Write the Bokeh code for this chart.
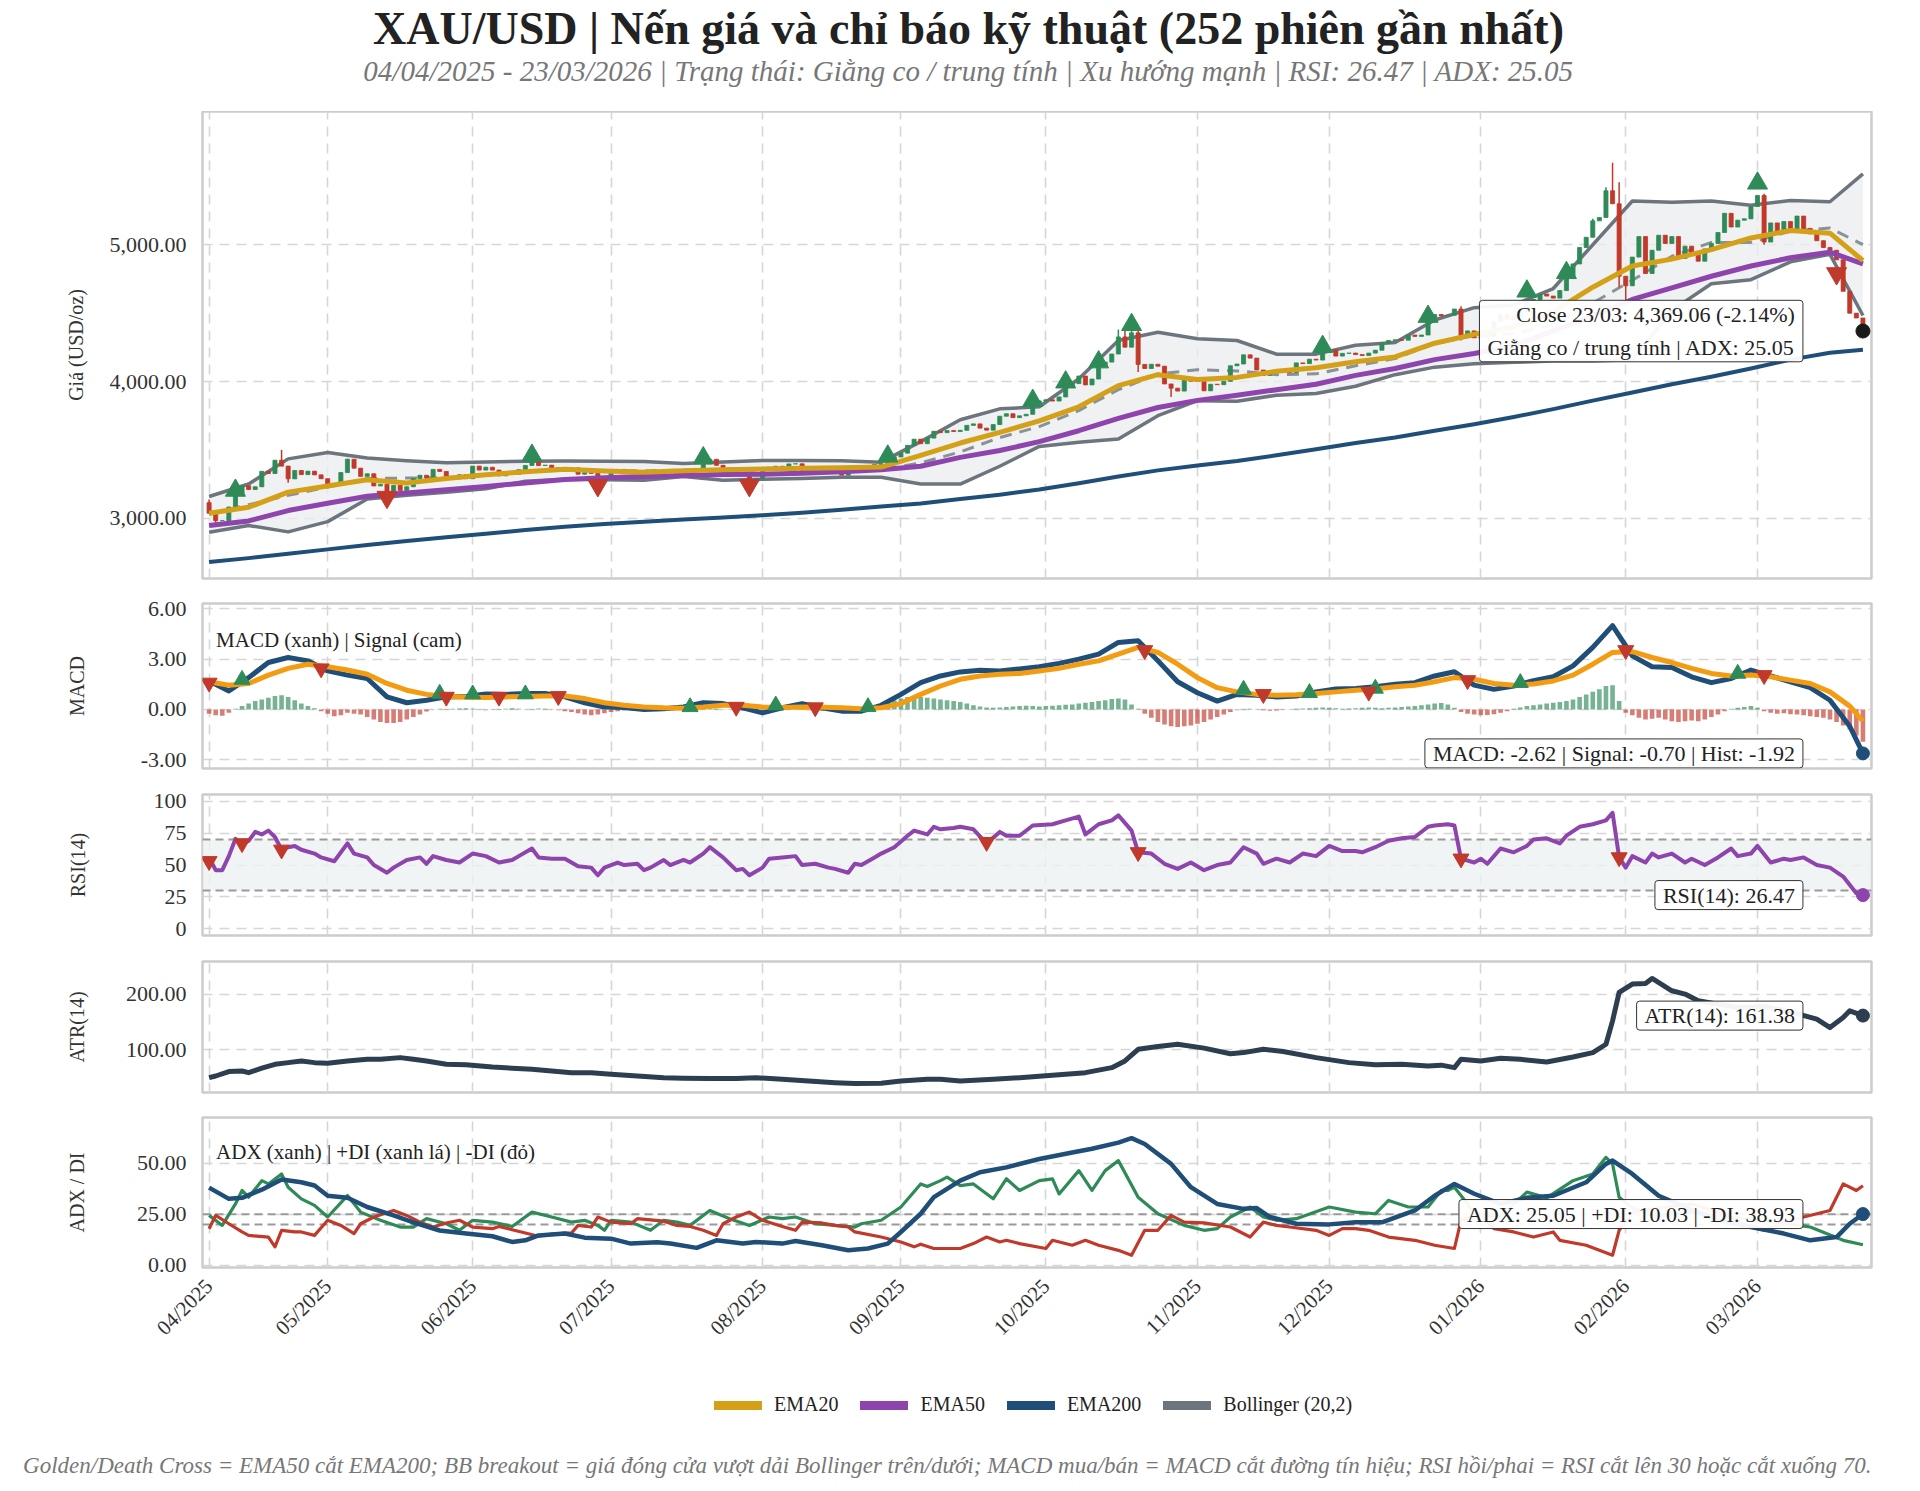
import math
from bokeh.plotting import figure
from bokeh.layouts import column
from bokeh.models import (Range1d, FixedTicker, NumeralTickFormatter, Label, Legend,
                          LegendItem, Grid, Span, BoxAnnotation, Title)
from bokeh.embed import file_html
from bokeh.resources import INLINE

FONT = "Liberation Serif"
W = 1920

# ---------------- data ----------------
symbol = "XAU/USD"
n_sessions = 252
period_start = "04/04/2025"
period_end = "23/03/2026"
last_day = "23/03"
trend_state = "Giằng co / trung tính"
trend_strength = "Xu hướng mạnh"

# first session of each month (session index) and its label
month_idx = [0, 18, 40, 61, 84, 105, 127, 150, 170, 193, 215, 235]
month_lbl = ["04/2025", "05/2025", "06/2025", "07/2025", "08/2025", "09/2025",
             "10/2025", "11/2025", "12/2025", "01/2026", "02/2026", "03/2026"]

first_open = 3114
close = [
    3037, 2982, 2982, 3082, 3175, 3237, 3210, 3230, 3343, 3327,
    3424, 3381, 3288, 3349, 3319, 3344, 3317, 3289, 3239, 3241,
    3334, 3431, 3366, 3306, 3325, 3236, 3248, 3177, 3240, 3202,
    3230, 3290, 3314, 3294, 3357, 3342, 3300, 3288, 3318, 3289,
    3381, 3352, 3373, 3352, 3310, 3325, 3322, 3355, 3386, 3432,
    3385, 3388, 3368, 3369, 3368, 3368, 3322, 3333, 3328, 3274,
    3303, 3338, 3357, 3326, 3337, 3336, 3301, 3313, 3324, 3355,
    3343, 3324, 3347, 3339, 3350, 3397, 3431, 3387, 3368, 3337,
    3314, 3326, 3275, 3289, 3363, 3373, 3380, 3369, 3397, 3398,
    3341, 3348, 3356, 3335, 3336, 3332, 3315, 3347, 3339, 3372,
    3365, 3393, 3397, 3416, 3448, 3476, 3533, 3578, 3545, 3586,
    3636, 3626, 3641, 3634, 3643, 3679, 3690, 3659, 3644, 3685,
    3746, 3764, 3736, 3749, 3760, 3833, 3858, 3866, 3857, 3887,
    3961, 3985, 4040, 3975, 4018, 4110, 4142, 4201, 4326, 4251,
    4356, 4125, 4095, 4126, 4112, 3982, 3951, 3930, 4025, 4002,
    4000, 3932, 3980, 3977, 4001, 4115, 4128, 4195, 4171, 4084,
    4045, 4067, 4078, 4078, 4065, 4136, 4131, 4163, 4157, 4218,
    4230, 4186, 4206, 4208, 4197, 4190, 4208, 4229, 4280, 4300,
    4305, 4302, 4340, 4330, 4340, 4445, 4490, 4480, 4485, 4530,
    4332, 4370, 4320, 4325, 4330, 4440, 4490, 4455, 4475, 4510,
    4590, 4600, 4640, 4625, 4610, 4665, 4760, 4860, 4980, 5055,
    5175, 5200, 5395, 5300, 4770, 4700, 4910, 5060, 4790, 4960,
    5070, 5010, 5060, 4900, 4990, 4940, 4880, 4970, 5010, 5090,
    5230, 5130, 5180, 5190, 5280, 5360, 5020, 5160, 5090, 5170,
    5090, 5210, 5120, 5080, 5030, 4980, 4960, 4890, 4660, 4500,
    4464.6, 4369.06,
]
# session extremes that reach beyond the candle body
wick_hi = {0: 3136, 11: 3500, 21: 3436, 138: 4380, 139: 4381, 140: 4381, 141: 4381,
           190: 4550, 210: 5190, 212: 5420, 213: 5600, 214: 5458, 236: 5373}
wick_lo = {1: 2957, 12: 3260, 141: 4070, 146: 3886, 190: 4300, 214: 4690,
           215: 4568, 236: 5000, 251: 4340}

# moving averages and Bollinger bands, sampled every 6 sessions
idx6 = [0, 6, 12, 18, 24, 30, 36, 42, 48, 54, 60, 66, 72, 78, 84, 90, 96, 102, 108, 114,
        120, 126, 132, 138, 144, 150, 156, 162, 168, 174, 180, 186, 192, 198, 204, 210,
        216, 222, 228, 234, 240, 246, 251]
ema20 = [3037, 3080, 3191, 3235, 3281, 3258, 3290, 3318, 3340, 3358, 3345, 3337, 3348, 3354,
         3360, 3366, 3370, 3374, 3460, 3550, 3628, 3712, 3815, 3970, 4050, 4015, 4030, 4075,
         4100, 4145, 4180, 4280, 4345, 4400, 4510, 4690, 4845, 4895, 4965, 5050, 5105, 5085,
         4885]
ema50 = [2947, 2980, 3056, 3110, 3160, 3185, 3208, 3232, 3258, 3283, 3296, 3305, 3313, 3320,
         3322, 3328, 3340, 3355, 3380, 3445, 3495, 3560, 3640, 3730, 3810, 3862, 3900, 3940,
         3980, 4045, 4095, 4160, 4205, 4260, 4370, 4480, 4600, 4685, 4770, 4845, 4905, 4946,
         4861]
ema200 = [2679, 2708, 2740, 2772, 2804, 2834, 2860, 2887, 2913, 2938, 2958, 2975, 2990, 3006,
          3022, 3040, 3062, 3086, 3108, 3140, 3172, 3210, 3255, 3305, 3350, 3385, 3418, 3460,
          3505, 3550, 3590, 3640, 3688, 3740, 3798, 3860, 3920, 3980, 4035, 4095, 4160, 4210,
          4232]
bb_up = [3159, 3250, 3434, 3480, 3440, 3420, 3405, 3412, 3416, 3418, 3416, 3414, 3400, 3412,
         3422, 3422, 3420, 3410, 3560, 3720, 3800, 3815, 4020, 4300, 4360, 4312, 4300, 4200,
         4200, 4265, 4285, 4450, 4540, 4560, 4680, 5000, 5320, 5312, 5320, 5290, 5324, 5315,
         5519]
bb_lo = [2898, 2947, 2900, 2975, 3140, 3168, 3190, 3215, 3270, 3285, 3281, 3278, 3305, 3278,
         3285, 3290, 3300, 3300, 3250, 3250, 3380, 3525, 3555, 3580, 3750, 3860, 3855, 3900,
         3912, 3965, 4050, 4105, 4130, 4140, 4150, 4150, 4160, 4520, 4715, 4745, 4875, 4930,
         4483]

# breakout signals on price
bb_break_up_i = [4, 49, 75, 103, 125, 130, 135, 140, 169, 185, 200, 206, 235]
bb_break_up_y = [3203, 3459, 3440, 3453, 3860, 3995, 4142, 4415, 4255, 4475, 4660, 4795, 5450]
bb_break_dn_i = [27, 59, 82, 247]
bb_break_dn_y = [3154, 3240, 3240, 4790]

# MACD / signal sampled every 3 sessions, histogram for every session
idx3 = [0, 3, 6, 9, 12, 15, 18, 21, 24, 27, 30, 33, 36, 39, 42, 45, 48, 51, 54, 57, 60, 63,
        66, 69, 72, 75, 78, 81, 84, 87, 90, 93, 96, 99, 102, 105, 108, 111, 114, 117, 120,
        123, 126, 129, 132, 135, 138, 141, 144, 147, 150, 153, 156, 159, 162, 165, 168, 171,
        174, 177, 180, 183, 186, 189, 192, 195, 198, 201, 204, 207, 210, 213, 216, 219, 222,
        225, 228, 231, 234, 237, 240, 243, 246, 249, 251]
macd = [1.70, 1.10, 1.90, 2.80, 3.10, 2.90, 2.30, 2.05, 1.85, 0.75,
        0.40, 0.55, 0.75, 0.78, 0.92, 0.90, 0.95, 0.95, 0.75, 0.40,
        0.15, 0.12, 0.00, 0.05, 0.15, 0.40, 0.35, 0.10, -0.20, 0.10,
        0.35, 0.10, -0.10, -0.10, 0.25, 0.90, 1.60, 2.00, 2.24, 2.34,
        2.30, 2.42, 2.55, 2.75, 3.00, 3.30, 4.00, 4.10, 2.90, 1.65,
        1.00, 0.50, 0.90, 0.85, 0.75, 0.80, 1.05, 1.22, 1.25, 1.35,
        1.50, 1.60, 2.00, 2.25, 1.45, 1.20, 1.40, 1.72, 1.95, 2.60,
        3.70, 5.00, 3.20, 2.55, 2.50, 1.95, 1.60, 1.85, 2.35, 2.00,
        1.65, 1.30, 0.55, -1.00, -2.62]
signal = [1.65, 1.45, 1.55, 2.05, 2.45, 2.70, 2.55, 2.35, 2.10, 1.55,
          1.15, 0.90, 0.79, 0.73, 0.72, 0.75, 0.78, 0.80, 0.80, 0.65,
          0.40, 0.25, 0.15, 0.10, 0.08, 0.15, 0.25, 0.25, 0.15, 0.12,
          0.15, 0.14, 0.10, 0.05, 0.10, 0.35, 0.90, 1.40, 1.80, 2.00,
          2.10, 2.15, 2.30, 2.45, 2.70, 2.90, 3.30, 3.70, 3.40, 2.70,
          1.90, 1.30, 1.05, 0.90, 0.85, 0.88, 0.95, 1.05, 1.15, 1.22,
          1.35, 1.45, 1.65, 1.90, 1.80, 1.55, 1.45, 1.52, 1.70, 2.05,
          2.70, 3.40, 3.45, 3.10, 2.80, 2.45, 2.15, 2.00, 2.05, 1.95,
          1.75, 1.55, 1.05, 0.20, -0.70]
hist = [
    -0.25, -0.35, -0.38, -0.2,
    0.05, 0.2, 0.35, 0.5, 0.6, 0.7, 0.8, 0.85, 0.75,
    0.55, 0.35, 0.2, 0.08,
    -0.1, -0.25, -0.4, -0.35, -0.2, -0.25, -0.3, -0.45, -0.6, -0.75, -0.8, -0.8, -0.75,
    -0.6, -0.45, -0.3, -0.12,
    0.02, 0.05, -0.03, 0.04, 0.06, 0.08, 0.05, 0.02, -0.04, -0.02, 0.03, 0.05, 0.07, 0.04,
    0.02, 0.03, 0.06, 0.04, -0.02, -0.05, -0.1,
    -0.15, -0.22, -0.3, -0.34, -0.3, -0.22, -0.15, -0.1, -0.06, -0.04, -0.02,
    0.02, 0.03, 0.05, 0.06, 0.04, 0.03, 0.02, 0.04, 0.08, 0.1, 0.07, 0.04, 0.02, -0.02,
    -0.05, -0.08, -0.1, -0.06, -0.03, 0.02, 0.04, 0.05, 0.03, 0.01, -0.02, -0.04, -0.06,
    -0.07, -0.05, -0.04, -0.03, -0.02, 0.01, 0.03, 0.05,
    0.15, 0.3, 0.45, 0.55, 0.65, 0.75, 0.8, 0.75, 0.7, 0.65, 0.6, 0.55, 0.5,
    0.45, 0.35, 0.25, 0.18, 0.12, 0.1, 0.12, 0.15, 0.18, 0.2, 0.22, 0.2, 0.18, 0.2, 0.22,
    0.25, 0.28, 0.3, 0.35, 0.4, 0.45, 0.5, 0.55, 0.62, 0.65, 0.6, 0.3, 0.05,
    -0.25, -0.5, -0.75, -0.9, -1.0, -1.05, -1.0, -0.95, -0.85, -0.75, -0.6, -0.45, -0.3,
    -0.15, -0.05,
    0.03, 0.05, -0.02, -0.05, -0.08, -0.06, -0.03, 0.02, 0.04, 0.06,
    0.08, 0.1, 0.12, 0.1, 0.08, 0.05, 0.06, 0.08, 0.1, 0.12, 0.1, 0.08, 0.1, 0.12, 0.15,
    0.18, 0.2, 0.25, 0.3, 0.35, 0.38, 0.3, 0.1,
    -0.15, -0.25, -0.3, -0.35, -0.33, -0.28, -0.2, -0.1,
    0.05, 0.12, 0.2, 0.25, 0.3, 0.35, 0.4, 0.45, 0.5, 0.6, 0.75, 0.9, 1.05, 1.2, 1.4, 1.45,
    0.5,
    -0.2, -0.35, -0.5, -0.6, -0.55, -0.5, -0.6, -0.7, -0.75, -0.7, -0.65, -0.7, -0.6,
    -0.45, -0.3,
    -0.1, 0.05, 0.1, 0.15, 0.2, 0.1,
    -0.1, -0.2, -0.25, -0.22, -0.28, -0.3, -0.35, -0.4, -0.45, -0.5, -0.6, -0.75, -0.95,
    -1.2, -1.55, -1.92,
]
macd_buy_i = [5, 35, 40, 48, 73, 86, 100, 157, 167, 177, 199, 232]
macd_buy_y = [1.78, 0.95, 0.91, 0.91, 0.15, 0.25, 0.15, 1.19, 0.99, 1.25, 1.59, 2.14]
macd_sell_i = [0, 17, 36, 44, 53, 80, 92, 142, 160, 176, 191, 215, 236]
macd_sell_y = [1.59, 2.44, 0.75, 0.75, 0.79, 0.15, 0.12, 3.53, 0.91, 1.05, 1.74, 3.53, 2.04]

# RSI(14) turning points
rsi_pts = [(0, 56), (1, 46), (2, 46), (3, 57), (4, 70.5), (5, 67), (6, 69), (7, 76), (8, 74),
           (9, 77), (10, 72), (11, 62), (12, 64), (13, 65), (14, 62), (16, 59), (17, 56),
           (19, 53), (21, 67), (22, 59), (24, 56), (25, 50), (27, 44), (28, 48), (30, 54),
           (32, 56), (33, 51), (34, 57), (36, 54), (38, 52), (40, 59), (42, 57), (44, 52),
           (46, 54), (47, 57), (49, 63), (50, 56), (52, 55), (54, 55), (56, 49), (58, 48),
           (59, 42), (60, 48), (62, 52), (63, 50), (65, 51), (66, 46), (67, 48), (69, 54),
           (70, 50), (72, 54), (73, 52), (75, 59), (76, 64), (78, 56), (79, 51), (80, 46),
           (81, 47), (82, 42), (84, 48), (85, 55), (87, 56), (89, 57), (90, 50), (92, 51),
           (94, 48), (95, 47), (97, 44), (98, 51), (99, 50), (101, 56), (102, 59), (104, 64),
           (106, 73), (107, 77), (109, 74), (110, 80), (111, 78), (113, 79), (114, 80),
           (116, 78), (118, 67), (120, 76), (121, 73), (123, 73), (125, 81), (128, 82),
           (130, 85), (132, 88), (133, 74), (135, 82), (137, 85), (138, 89), (140, 77),
           (141, 60), (143, 59), (145, 51), (147, 47), (149, 52), (151, 46), (153, 50),
           (155, 52), (157, 64), (159, 59), (160, 51), (162, 55), (164, 52), (166, 59),
           (168, 57), (170, 65), (172, 61), (174, 61), (175, 60), (177, 64), (179, 69),
           (181, 71), (183, 72), (185, 80), (186, 81), (188, 82), (189, 81), (190, 55),
           (192, 52), (193, 55), (194, 51), (196, 63), (198, 60), (200, 65), (201, 70),
           (203, 71), (205, 67), (206, 73), (208, 80), (210, 82), (212, 85), (213, 91),
           (214, 56), (215, 48), (216, 57), (218, 52), (219, 59), (220, 56), (222, 59),
           (224, 52), (225, 55), (227, 50), (229, 56), (231, 63), (232, 57), (234, 59),
           (235, 65), (237, 52), (239, 55), (240, 54), (242, 56), (244, 50), (246, 48),
           (248, 41), (250, 28), (251, 26.47)]
rsi_fade_i = [0, 5, 11, 118, 141, 190, 214]
rsi_fade_y = [53, 67, 62, 68, 60, 55, 56]

# ATR(14)
atr_pts = [(0, 50), (1, 53), (3, 61), (5, 62), (6, 59), (8, 67), (10, 74), (12, 77), (14, 80),
           (16, 77), (18, 76), (21, 80), (24, 83), (26, 83), (29, 86), (31, 83), (33, 80),
           (36, 74), (39, 73), (43, 69), (46, 67), (49, 65), (52, 62), (55, 59), (58, 59),
           (61, 56), (65, 53), (69, 50), (72, 49), (76, 48.5), (80, 48.5), (83, 50), (87, 47),
           (91, 44), (95, 41), (98, 39.5), (102, 40), (105, 44), (109, 47), (111, 47),
           (114, 44), (119, 47), (123, 50), (128, 54.5), (133, 59), (137, 68), (139, 80),
           (141, 101), (144, 106), (147, 110), (151, 103), (155, 93), (157, 95), (160, 101),
           (163, 97), (168, 86), (173, 77), (177, 73), (181, 74), (185, 71), (187, 72.5),
           (189, 68), (190, 83), (193, 80), (196, 85), (199, 83), (203, 78), (207, 87),
           (210, 95), (212, 110), (213, 152), (214, 203), (216, 218), (218, 219), (219, 228),
           (222, 206), (224, 200), (226, 188), (229, 182), (232, 176), (236, 178), (240, 168),
           (244, 155), (246, 140), (248, 158), (249, 170), (251, 161.38)]

# ADX / +DI / -DI
adx_pts = [(0, 38), (3, 32.5), (5, 33), (8, 37), (11, 42), (14, 40.6), (16, 39), (18, 34),
           (21, 33), (24, 28.5), (28, 24.4), (31, 21), (35, 17), (39, 15.5), (43, 14.2),
           (46, 11.4), (48, 12.2), (50, 14.6), (54, 15.5), (57, 13.5), (61, 13), (64, 10.6),
           (68, 11.2), (70, 10.6), (74, 8.5), (77, 12.2), (81, 10.6), (83, 11.4), (87, 10.6),
           (89, 11.9), (93, 9.8), (97, 7.3), (100, 8.2), (103, 10.6), (105, 16.3), (108, 25.2),
           (110, 33.3), (114, 41.4), (117, 45.5), (121, 47.9), (126, 52), (131, 55.2),
           (134, 57), (138, 60), (140, 62.2), (142, 59.3), (146, 49.6), (149, 38.2), (153, 30),
           (157, 27.6), (159, 28), (161, 23.6), (165, 20.3), (170, 20), (174, 21), (178, 21),
           (183, 26.8), (186, 34), (189, 39.8), (192, 35), (196, 30), (200, 33), (204, 34),
           (209, 40.6), (212, 49.6), (213, 51.2), (216, 44.7), (220, 34), (224, 28.5),
           (229, 22), (234, 18.7), (239, 15.5), (243, 12.2), (247, 13.8), (249, 20.3),
           (251, 25.05)]
pdi_pts = [(0, 24.4), (2, 19.5), (4, 30), (5, 36.6), (6, 33.3), (8, 41.4), (9, 39.8), (11, 44.7),
           (12, 38.2), (14, 32.5), (16, 29.3), (18, 23.6), (21, 34.1), (23, 26), (26, 22),
           (29, 18.7), (31, 18.7), (33, 22.8), (36, 20.3), (38, 17.1), (40, 22), (43, 21.1),
           (46, 19), (49, 26), (52, 23.6), (55, 21.1), (57, 22), (59, 19.5), (60, 17.1),
           (61, 22), (64, 21.1), (67, 17.1), (69, 22), (71, 21.1), (73, 19.5), (76, 26.8),
           (79, 22.8), (82, 19.5), (85, 23.6), (87, 22.8), (89, 23.6), (92, 20.3), (95, 19.5),
           (98, 18.7), (99, 20.3), (102, 22), (105, 28.5), (108, 39.8), (109, 38.5),
           (111, 41.4), (112, 43.1), (114, 39), (116, 39.8), (119, 32.5), (121, 42.3),
           (123, 36.6), (126, 41.4), (128, 42.3), (129, 34.9), (132, 46.3), (134, 36.6),
           (136, 46.3), (138, 51.2), (141, 33.3), (144, 25.2), (148, 19.5), (151, 17.1),
           (153, 17.9), (155, 23.6), (158, 28.5), (160, 23.6), (162, 22), (165, 22.8),
           (170, 28.5), (174, 26), (177, 25.2), (179, 31.7), (182, 28.5), (185, 28.5),
           (187, 36.6), (188, 36.6), (189, 38.2), (191, 30), (192, 25.2), (196, 24),
           (200, 35.8), (203, 33), (207, 41.4), (210, 44.7), (212, 52.8), (213, 49.6),
           (214, 33.3), (216, 28), (220, 24), (225, 26), (230, 24), (235, 22), (240, 20),
           (243, 18.7), (248, 12.2), (251, 10.03)]
mdi_pts = [(0, 17.9), (1, 24.4), (3, 20.3), (5, 16.3), (6, 14.6), (9, 13.8), (10, 9), (11, 17.1),
           (13, 16.3), (14, 16.3), (16, 14.6), (18, 22), (20, 19.5), (22, 15.5), (23, 20.3),
           (25, 23.6), (28, 26.8), (30, 24.4), (32, 21.1), (34, 18.7), (36, 20.7), (38, 22),
           (40, 18.7), (43, 17.9), (44, 19), (46, 17.4), (50, 14.2), (52, 15.2), (55, 15.8),
           (56, 19.5), (58, 18.7), (59, 23.6), (61, 21.1), (64, 20.3), (65, 22.8), (69, 21.6),
           (71, 19.5), (73, 19), (75, 17.1), (77, 14.6), (78, 20.3), (80, 23.6), (82, 26),
           (84, 22), (87, 19), (89, 17.1), (90, 21.1), (93, 20.7), (95, 19.5), (97, 18.7),
           (98, 16.3), (102, 13.8), (105, 11.4), (107, 9), (108, 10.3), (110, 8.2), (114, 8.2),
           (116, 10.6), (118, 13.8), (120, 11.4), (121, 12.2), (123, 10.6), (127, 8.2),
           (128, 12.2), (131, 9.8), (133, 12.2), (135, 9.8), (138, 7.3), (140, 4.9),
           (142, 17.1), (144, 17.1), (146, 24.4), (148, 21.1), (151, 20.7), (155, 18.7),
           (158, 13.8), (160, 21.1), (162, 19.5), (164, 18.7), (168, 17.1), (170, 14.6),
           (172, 17.9), (174, 17.9), (176, 17.1), (179, 13.8), (183, 12.2), (186, 9.8),
           (189, 8.2), (190, 22), (193, 25.2), (195, 17.9), (198, 16.3), (201, 13.8),
           (204, 16.3), (205, 12.2), (209, 9.8), (213, 4.9), (214, 17.1), (216, 26), (220, 28),
           (225, 30), (230, 25), (234, 18.7), (236, 17.1), (240, 22), (244, 25.2), (246, 26.8),
           (248, 39.8), (250, 36.6), (251, 38.93)]

legend_labels = ["EMA20", "EMA50", "EMA200", "Bollinger (20,2)"]
footnote = ("Golden/Death Cross = EMA50 cắt EMA200; BB breakout = giá đóng cửa vượt dải "
            "Bollinger trên/dưới; MACD mua/bán = MACD cắt đường tín hiệu; "
            "RSI hồi/phai = RSI cắt lên 30 hoặc cắt xuống 70.")

# ---------------- styles ----------------
GREEN = "#2e8b57"
RED = "#c0392b"
GOLD = "#d4a017"
PURPLE = "#8e44ad"
NAVY = "#1f4e79"
ORANGE = "#f39c12"
BBGRAY = "#6c757d"
ATRC = "#2c3e50"
GRIDC = "#d6d6d6"
TXT = "#333333"

FRAME_L, FRAME_R = 202, 1871
XR = Range1d(-1.0, 252.3)


def split(pts):
    return [p[0] for p in pts], [p[1] for p in pts]


def panel(height, top, bottom, yr, with_x=False):
    p = figure(width=W, height=height, x_range=XR, y_range=yr, tools="",
               toolbar_location=None, output_backend="svg",
               x_axis_location="below" if with_x else None,
               min_border_left=FRAME_L, min_border_right=W - FRAME_R,
               min_border_top=top, min_border_bottom=bottom,
               outline_line_color="#cccccc", outline_line_width=2.5,
               background_fill_color="white", border_fill_color="white")
    if len(p.xgrid) == 0:
        p.add_layout(Grid(dimension=0, ticker=FixedTicker(ticks=month_idx)))
    p.xgrid.ticker = FixedTicker(ticks=month_idx)
    for g in p.xgrid + p.ygrid:
        g.grid_line_color = GRIDC
        g.grid_line_dash = "10 7"
        g.grid_line_width = 1.6
    return p


def style_y(p, ticks, fmt, label, standoff):
    ax = p.yaxis[0]
    ax.ticker = FixedTicker(ticks=ticks)
    ax.formatter = NumeralTickFormatter(format=fmt)
    ax.axis_label = label
    ax.axis_label_standoff = standoff
    ax.axis_label_text_font = FONT
    ax.axis_label_text_font_size = "20px"
    ax.axis_label_text_font_style = "normal"
    ax.axis_label_text_color = TXT
    ax.major_label_text_font = FONT
    ax.major_label_text_font_size = "22px"
    ax.major_label_text_color = TXT
    ax.major_label_standoff = 10
    ax.axis_line_color = None
    ax.major_tick_line_color = None
    ax.minor_tick_line_color = None
    p.ygrid.ticker = FixedTicker(ticks=ticks)


def value_box(text, x, y):
    kw = dict(x=x, y=y, text=text, x_offset=-60, text_align="right",
              text_baseline="middle", text_font=FONT, text_font_size="22px",
              text_color="#222222", text_line_height=1.3,
              background_fill_color="white", background_fill_alpha=0.95,
              border_line_color="#333333", border_line_width=1)
    try:
        return Label(padding=dict(left=8, right=8, top=2, bottom=2), border_radius=3, **kw)
    except Exception:
        return Label(**kw)


def corner_note(text, y):
    return Label(x=0, y=y, x_offset=7, text=text, text_align="left", text_baseline="middle",
                 text_font=FONT, text_font_size="21px", text_color="#222222")


def level_line(p, lvl):
    p.add_layout(Span(location=lvl, dimension="width", line_color="#9a9a9a",
                      line_width=2, line_dash="8 5", level="underlay"))


last = len(close) - 1

# ---------------- header ----------------
title_text = f"{symbol} | Nến giá và chỉ báo kỹ thuật ({n_sessions} phiên gần nhất)"
adx_last = adx_pts[-1][1]
rsi_last = rsi_pts[-1][1]
sub_text = (f"{period_start} - {period_end} | Trạng thái: {trend_state} | {trend_strength} | "
            f"RSI: {rsi_last:.2f} | ADX: {adx_last:.2f}")

# header canvas coordinates: x in page pixels, y measured up from the header bottom
header = figure(width=W, height=111, x_range=Range1d(FRAME_L, FRAME_R),
                y_range=Range1d(0, 111), x_axis_type=None, y_axis_type=None, tools="",
                toolbar_location=None, output_backend="svg", min_border=0,
                outline_line_color=None)
header.add_layout(Label(x=968, y=83, text=title_text, text_align="center",
                        text_baseline="alphabetic", text_font=FONT, text_font_size="46px",
                        text_font_style="bold", text_color="#222222"))
header.add_layout(Label(x=968, y=41, text=sub_text, text_align="center",
                        text_baseline="alphabetic", text_font=FONT, text_font_size="29px",
                        text_font_style="italic", text_color="#777777"))

# ---------------- price ----------------
price = panel(479, 0, 12, Range1d(2559, 5975))
style_y(price, [3000, 4000, 5000], "0,0.00", "Giá (USD/oz)", 20)

bb_mid = [(u + l) / 2 for u, l in zip(bb_up, bb_lo)]
price.varea(x=idx6, y1=bb_lo, y2=bb_up, fill_color="#e9ecef", fill_alpha=0.75)
price.line(idx6, bb_up, line_color=BBGRAY, line_width=3.5, line_join="round")
price.line(idx6, bb_lo, line_color=BBGRAY, line_width=3.5, line_join="round")
price.line(idx6, bb_mid, line_color="#8a9299", line_width=3, line_dash="12 8")

opens = [first_open] + close[:-1]
sess = list(range(len(close)))
highs = [max(o, c, wick_hi.get(i, c)) for i, o, c in zip(sess, opens, close)]
lows = [min(o, c, wick_lo.get(i, c)) for i, o, c in zip(sess, opens, close)]
ccol = [GREEN if c >= o else RED for o, c in zip(opens, close)]
price.segment(x0=sess, y0=lows, x1=sess, y1=highs, line_color=ccol, line_width=1.5)
price.vbar(x=sess, width=0.62, top=[max(o, c) for o, c in zip(opens, close)],
           bottom=[min(o, c) for o, c in zip(opens, close)],
           fill_color=ccol, line_color=ccol, line_width=0.8)

price.line(idx6, ema200, line_color=NAVY, line_width=4, line_join="round")
price.line(idx6, ema50, line_color=PURPLE, line_width=5, line_join="round")
price.line(idx6, ema20, line_color=GOLD, line_width=5, line_join="round")

price.scatter(bb_break_up_i, bb_break_up_y, marker="triangle", size=20,
              fill_color=GREEN, line_color=GREEN)
price.scatter(bb_break_dn_i, bb_break_dn_y, marker="inverted_triangle", size=20,
              fill_color=RED, line_color=RED)
price.scatter([last], [close[-1]], size=14, fill_color="#1a1a1a", line_color="#1a1a1a")

pct = (close[-1] / close[-2] - 1) * 100
price.add_layout(value_box(f"Close {last_day}: {close[-1]:,.2f} ({pct:.2f}%)\n"
                           f"{trend_state} | ADX: {adx_last:.2f}", last, close[-1]))

# ---------------- MACD ----------------
macd_p = panel(191, 13, 13, Range1d(-3.52, 6.32))
style_y(macd_p, [-3, 0, 3, 6], "0,0.00", "MACD", 50)
hcol = [GREEN if h >= 0 else RED for h in hist]
macd_p.vbar(x=sess, width=0.7, top=hist, bottom=0, fill_color=hcol, line_color=None,
            fill_alpha=0.65)
macd_p.line(idx3, macd, line_color=NAVY, line_width=5, line_join="round")
macd_p.line(idx3, signal, line_color=ORANGE, line_width=5, line_join="round")
macd_p.scatter(macd_buy_i, macd_buy_y, marker="triangle", size=16, fill_color=GREEN,
               line_color=GREEN)
macd_p.scatter(macd_sell_i, macd_sell_y, marker="inverted_triangle", size=16, fill_color=RED,
               line_color=RED)
macd_p.scatter([last], [macd[-1]], size=13, fill_color=NAVY, line_color=NAVY)
macd_p.add_layout(corner_note("MACD (xanh) | Signal (cam)", 4.13))
macd_p.add_layout(value_box(f"MACD: {macd[-1]:.2f} | Signal: {signal[-1]:.2f} | "
                            f"Hist: {hist[-1]:.2f}", last, macd[-1]))

# ---------------- RSI ----------------
rsi_p = panel(167, 13, 13, Range1d(-5.2, 105.3))
style_y(rsi_p, [0, 25, 50, 75, 100], "0", "RSI(14)", 62)
rsi_p.add_layout(BoxAnnotation(bottom=30, top=70, fill_color="#eef1f1", fill_alpha=0.8,
                               line_color=None, level="underlay"))
for lvl in (70, 30):
    level_line(rsi_p, lvl)
ri, rv = split(rsi_pts)
rsi_p.line(ri, rv, line_color=PURPLE, line_width=4, line_join="round")
rsi_p.scatter(rsi_fade_i, rsi_fade_y, marker="inverted_triangle", size=16, fill_color=RED,
              line_color=RED)
rsi_p.scatter([last], [rv[-1]], size=13, fill_color=PURPLE, line_color=PURPLE)
rsi_p.add_layout(value_box(f"RSI(14): {rv[-1]:.2f}", last, rv[-1]))

# ---------------- ATR ----------------
atr_p = panel(156, 13, 12, Range1d(23.4, 258.5))
style_y(atr_p, [100, 200], "0,0.00", "ATR(14)", 35)
ai, av = split(atr_pts)
atr_p.line(ai, av, line_color=ATRC, line_width=5, line_join="round")
atr_p.scatter([last], [av[-1]], size=13, fill_color=ATRC, line_color=ATRC)
atr_p.add_layout(value_box(f"ATR(14): {av[-1]:.2f}", last, av[-1]))

# ---------------- ADX ----------------
adx_p = panel(256, 13, 93, Range1d(-1.1, 72.3), with_x=True)
style_y(adx_p, [0, 25, 50], "0,0.00", "ADX / DI", 46)
xa = adx_p.xaxis[0]
xa.ticker = FixedTicker(ticks=month_idx)
xa.major_label_overrides = {i: s for i, s in zip(month_idx, month_lbl)}
xa.major_label_orientation = math.pi / 4
xa.major_label_text_font = FONT
xa.major_label_text_font_size = "21px"
xa.major_label_text_color = TXT
xa.major_label_standoff = 9
xa.axis_line_color = None
xa.major_tick_line_color = None
xa.minor_tick_line_color = None
for lvl in (25, 20):
    level_line(adx_p, lvl)
pi_, pv = split(pdi_pts)
mi_, mv = split(mdi_pts)
di_, dv = split(adx_pts)
adx_p.line(pi_, pv, line_color=GREEN, line_width=3.2, line_join="round")
adx_p.line(mi_, mv, line_color=RED, line_width=3.2, line_join="round")
adx_p.line(di_, dv, line_color=NAVY, line_width=4.5, line_join="round")
adx_p.scatter([last], [dv[-1]], size=13, fill_color=NAVY, line_color=NAVY)
adx_p.add_layout(corner_note("ADX (xanh) | +DI (xanh lá) | -DI (đỏ)", 55.2))
adx_p.add_layout(value_box(f"ADX: {dv[-1]:.2f} | +DI: {pv[-1]:.2f} | -DI: {mv[-1]:.2f}",
                           last, dv[-1]))

# ---------------- legend + footnote ----------------
foot = figure(width=W, height=131, x_range=Range1d(0, 1), y_range=Range1d(0, 1),
              x_axis_type=None, y_axis_type=None, tools="", toolbar_location=None,
              output_backend="svg", min_border_left=FRAME_L, min_border_right=W - FRAME_R,
              min_border_top=0, min_border_bottom=44, outline_line_color=None)
nan = float("nan")
swatches = [foot.line(x=[nan], y=[nan], line_color=col, line_width=9, line_cap="round")
            for col in (GOLD, PURPLE, NAVY, BBGRAY)]
legend = Legend(items=[LegendItem(label=lb, renderers=[r])
                       for lb, r in zip(legend_labels, swatches)],
                orientation="horizontal", location=(512, 31), glyph_width=48,
                glyph_height=20, label_height=20, label_standoff=12, spacing=22, padding=0,
                margin=0, border_line_color=None, background_fill_alpha=0,
                label_text_font=FONT, label_text_font_size="20px",
                label_text_color="#222222")
foot.add_layout(legend)
foot.add_layout(Title(text=footnote, align="right", standoff=6, text_font=FONT,
                      text_font_size="23px", text_font_style="italic",
                      text_color="#777777"), "below")

layout = column(header, price, macd_p, rsi_p, atr_p, adx_p, foot, spacing=0)
open("out.html", "w").write(file_html(layout, INLINE, title="XAU/USD"))
